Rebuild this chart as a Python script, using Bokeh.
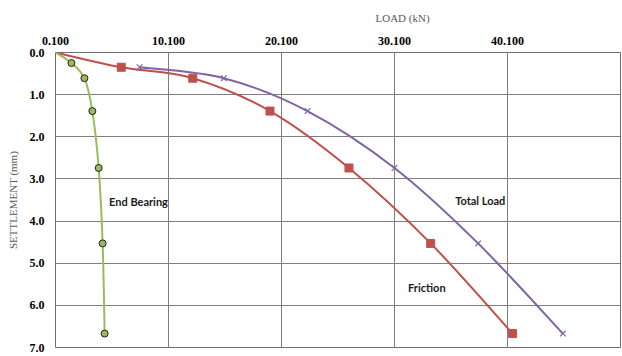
from bokeh.plotting import figure
from bokeh.models import Range1d, FixedTicker, NumeralTickFormatter, Label
from bokeh.embed import file_html
from bokeh.resources import INLINE

# ---- data ----
friction_load = [0.1, 5.92, 12.25, 19.08, 26.07, 33.3, 40.55]
friction_settle = [0.0, 0.35, 0.61, 1.39, 2.74, 4.53, 6.67]
total_load = [7.54, 15.0, 22.4, 30.1, 37.5, 45.0]
total_settle = [0.35, 0.61, 1.39, 2.74, 4.53, 6.67]
end_load = [0.1, 1.51, 2.66, 3.36, 3.92, 4.27, 4.45]
end_settle = [0.0, 0.25, 0.61, 1.39, 2.74, 4.53, 6.67]
x_ticks = [0.1, 10.1, 20.1, 30.1, 40.1]
y_ticks = [0, 1, 2, 3, 4, 5, 6, 7]

RED = "#C0504D"
PURPLE = "#8064A2"
GREEN = "#9BBB59"


def smooth(xs, ys):
    """Catmull-Rom style bezier control points (Excel-like smoothed line)."""
    n = len(xs)
    x0, y0, x1, y1, cx0, cy0, cx1, cy1 = [], [], [], [], [], [], [], []
    for i in range(n - 1):
        pxm = xs[i - 1] if i > 0 else xs[i]
        pym = ys[i - 1] if i > 0 else ys[i]
        pxp = xs[i + 2] if i + 2 < n else xs[i + 1]
        pyp = ys[i + 2] if i + 2 < n else ys[i + 1]
        x0.append(xs[i]); y0.append(ys[i])
        x1.append(xs[i + 1]); y1.append(ys[i + 1])
        cx0.append(xs[i] + (xs[i + 1] - pxm) / 6.0)
        cy0.append(ys[i] + (ys[i + 1] - pym) / 6.0)
        cx1.append(xs[i + 1] - (pxp - xs[i]) / 6.0)
        cy1.append(ys[i + 1] - (pyp - ys[i]) / 6.0)
    return dict(x0=x0, y0=y0, x1=x1, y1=y1, cx0=cx0, cy0=cy0, cx1=cx1, cy1=cy1)


p = figure(width=622, height=356, output_backend="svg", toolbar_location=None,
           x_axis_location="above",
           x_range=Range1d(0.1, 50.1), y_range=Range1d(7, 0),
           min_border_left=55, min_border_top=51, min_border_right=2,
           min_border_bottom=9)

p.title.text = "LOAD (kN)"
p.title.align = "left"
p.title.offset = 320
p.title.text_font = "Liberation Serif"
p.title.text_font_style = "normal"
p.title.text_font_size = "11px"
p.title.text_color = "#595959"
p.title.standoff = 19

p.outline_line_color = "#6f6f6f"
p.outline_line_width = 1

for ax in (p.xaxis[0], p.yaxis[0]):
    ax.major_tick_line_color = None
    ax.minor_tick_line_color = None
    ax.major_tick_out = 0
    ax.major_tick_in = 0
    ax.axis_line_color = None
    ax.major_label_text_font = "Liberation Serif"
    ax.major_label_text_font_style = "bold"
    ax.major_label_text_font_size = "12px"
    ax.major_label_text_color = "#000000"

p.xaxis.ticker = FixedTicker(ticks=x_ticks)
p.xaxis.formatter = NumeralTickFormatter(format="0.000")
p.xaxis.major_label_standoff = 8
p.yaxis.ticker = FixedTicker(ticks=y_ticks)
p.yaxis.formatter = NumeralTickFormatter(format="0.0")
p.yaxis.major_label_standoff = 11
p.yaxis.axis_label = "SETTLEMENT (mm)"
p.yaxis.axis_label_text_font = "Liberation Serif"
p.yaxis.axis_label_text_font_style = "normal"
p.yaxis.axis_label_text_font_size = "11px"
p.yaxis.axis_label_text_color = "#595959"
p.yaxis.axis_label_standoff = 8

p.xgrid.ticker = FixedTicker(ticks=x_ticks)
p.ygrid.ticker = FixedTicker(ticks=y_ticks)
p.xgrid.grid_line_color = "#7f7f7f"
p.ygrid.grid_line_color = "#7f7f7f"

# smoothed lines
for xs, ys, col in ((friction_load, friction_settle, RED),
                    (total_load, total_settle, PURPLE),
                    (end_load, end_settle, GREEN)):
    b = smooth(xs, ys)
    p.bezier(x0=b["x0"], y0=b["y0"], x1=b["x1"], y1=b["y1"],
             cx0=b["cx0"], cy0=b["cy0"], cx1=b["cx1"], cy1=b["cy1"],
             line_color=col, line_width=2)

# markers
p.scatter(friction_load[1:], friction_settle[1:], marker="square", size=8,
          fill_color=RED, line_color=RED)
p.scatter(total_load, total_settle, marker="x", size=8, line_color=PURPLE,
          line_width=1.2)
p.scatter(end_load[1:], end_settle[1:], marker="circle", size=7,
          fill_color=GREEN, line_color="#222222", line_width=1)

lbl = dict(text_font="Lato", text_font_style="bold", text_font_size="11px",
           text_color="#1a1a1a", text_baseline="middle", text_align="left")
p.add_layout(Label(x=4.84, y=3.53, text="End Bearing", **lbl))
p.add_layout(Label(x=35.47, y=3.50, text="Total Load", **lbl))
p.add_layout(Label(x=31.3, y=5.58, text="Friction", **lbl))

open("out.html", "w").write(file_html(p, INLINE))
